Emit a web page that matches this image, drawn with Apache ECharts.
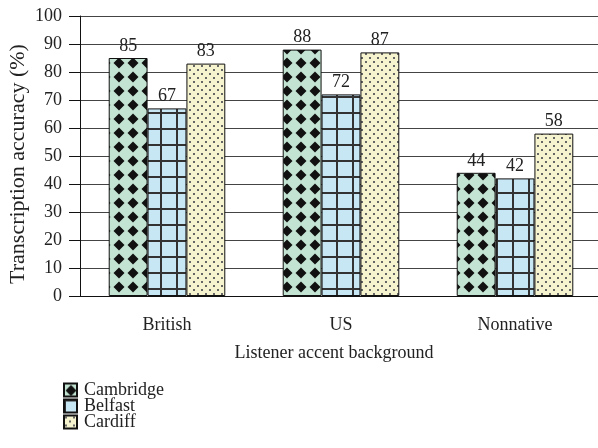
<!DOCTYPE html>
<html lang="en">
<head>
    <meta charset="UTF-8">
    <title>Transcription accuracy</title>
    <style>
      * { padding: 0; margin: 0; }
      body { background: #fff; }
    </style>
</head>
<body>
    <div id="main" style="width: 598px;height:448px;"></div>
    <script src="https://cdn.jsdelivr.net/npm/echarts@6/dist/echarts.min.js"></script>
    <script>
    var categories = ['British', 'US', 'Nonnative'];
    var seriesNames = ['Cambridge', 'Belfast', 'Cardiff'];
    var cambridge = [85, 88, 44];
    var belfast = [67, 72, 42];
    var cardiff = [83, 87, 58];
    var yTicks = [0, 10, 20, 30, 40, 50, 60, 70, 80, 90, 100];

    var serif = '"Liberation Serif", "DejaVu Serif", serif';

    // diamond pattern
    function diamondPattern() {
        var c = document.createElement('canvas');
        c.width = 14; c.height = 14;
        var ctx = c.getContext('2d');
        ctx.fillStyle = '#c3e4d3';
        ctx.fillRect(0, 0, 14, 14);
        ctx.fillStyle = '#111';
        ctx.beginPath();
        ctx.moveTo(7, 1.5); ctx.lineTo(12.5, 7); ctx.lineTo(7, 12.5); ctx.lineTo(1.5, 7);
        ctx.closePath();
        ctx.fill();
        return c;
    }
    // grid pattern
    function gridPattern() {
        var c = document.createElement('canvas');
        c.width = 16; c.height = 16;
        var ctx = c.getContext('2d');
        ctx.fillStyle = '#c8e7f5';
        ctx.fillRect(0, 0, 16, 16);
        ctx.fillStyle = '#333';
        ctx.fillRect(0, 0, 2, 16);
        ctx.fillRect(0, 0, 16, 2);
        return c;
    }
    // dot pattern
    function dotPattern() {
        var c = document.createElement('canvas');
        c.width = 8; c.height = 8;
        var ctx = c.getContext('2d');
        ctx.fillStyle = '#f6f3cf';
        ctx.fillRect(0, 0, 8, 8);
        ctx.fillStyle = '#666';
        ctx.fillRect(1, 1, 2, 2);
        ctx.fillRect(5, 5, 2, 2);
        return c;
    }

    var patterns = [diamondPattern(), gridPattern(), dotPattern()];
    var values = [cambridge, belfast, cardiff];

    var series = seriesNames.map(function (name, i) {
        return {
            name: name,
            type: 'bar',
            barGap: 0,
            barCategoryGap: '33%',
            data: values[i],
            itemStyle: {
                color: { image: patterns[i], repeat: 'repeat' },
                borderColor: '#111',
                borderWidth: 1
            },
            label: {
                show: true,
                position: 'top',
                distance: 3,
                color: '#222',
                fontFamily: serif,
                fontSize: 18
            }
        };
    });

    var option = {
        animation: false,
        grid: { left: 80, top: 16, width: 522, height: 280, outerBoundsMode: 'none', containLabel: false },
        legend: {
            orient: 'vertical',
            left: 63,
            top: 381,
            padding: 0,
            itemWidth: 13,
            itemHeight: 13,
            itemGap: -2,
            icon: 'rect',
            textStyle: { fontFamily: serif, fontSize: 18, color: '#222', padding: [0, 0, 0, 2] },
            data: seriesNames
        },
        // y axis title, drawn as text so it sits where the reference has it
        graphic: [{
            type: 'text',
            x: 18,
            y: 164,
            rotation: Math.PI / 2,
            style: {
                text: 'Transcription accuracy (%)',
                font: '22px ' + serif,
                fill: '#222',
                align: 'center',
                verticalAlign: 'middle'
            }
        }],
        xAxis: {
            type: 'category',
            data: categories,
            name: 'Listener accent background',
            nameLocation: 'middle',
            nameGap: 48,
            nameTextStyle: { fontFamily: serif, fontSize: 18, color: '#222', padding: [0, 14, 0, 0] },
            axisLine: { lineStyle: { color: '#111', width: 1 } },
            axisTick: { length: 5, lineStyle: { color: '#111' } },
            axisLabel: { fontFamily: serif, fontSize: 18, color: '#222', margin: 20 }
        },
        yAxis: {
            type: 'value',
            min: yTicks[0],
            max: yTicks[yTicks.length - 1],
            interval: 10,
            axisLine: { show: true, lineStyle: { color: '#111', width: 1 } },
            axisTick: { show: true, length: 11, lineStyle: { color: '#111' } },
            axisLabel: { fontFamily: serif, fontSize: 18, color: '#222', margin: 18 },
            splitLine: { lineStyle: { color: '#444', width: 1.2 } }
        },
        series: series
    };

    var myChart = echarts.init(document.getElementById('main'));
    myChart.setOption(option);
    </script>
</body>
</html>
